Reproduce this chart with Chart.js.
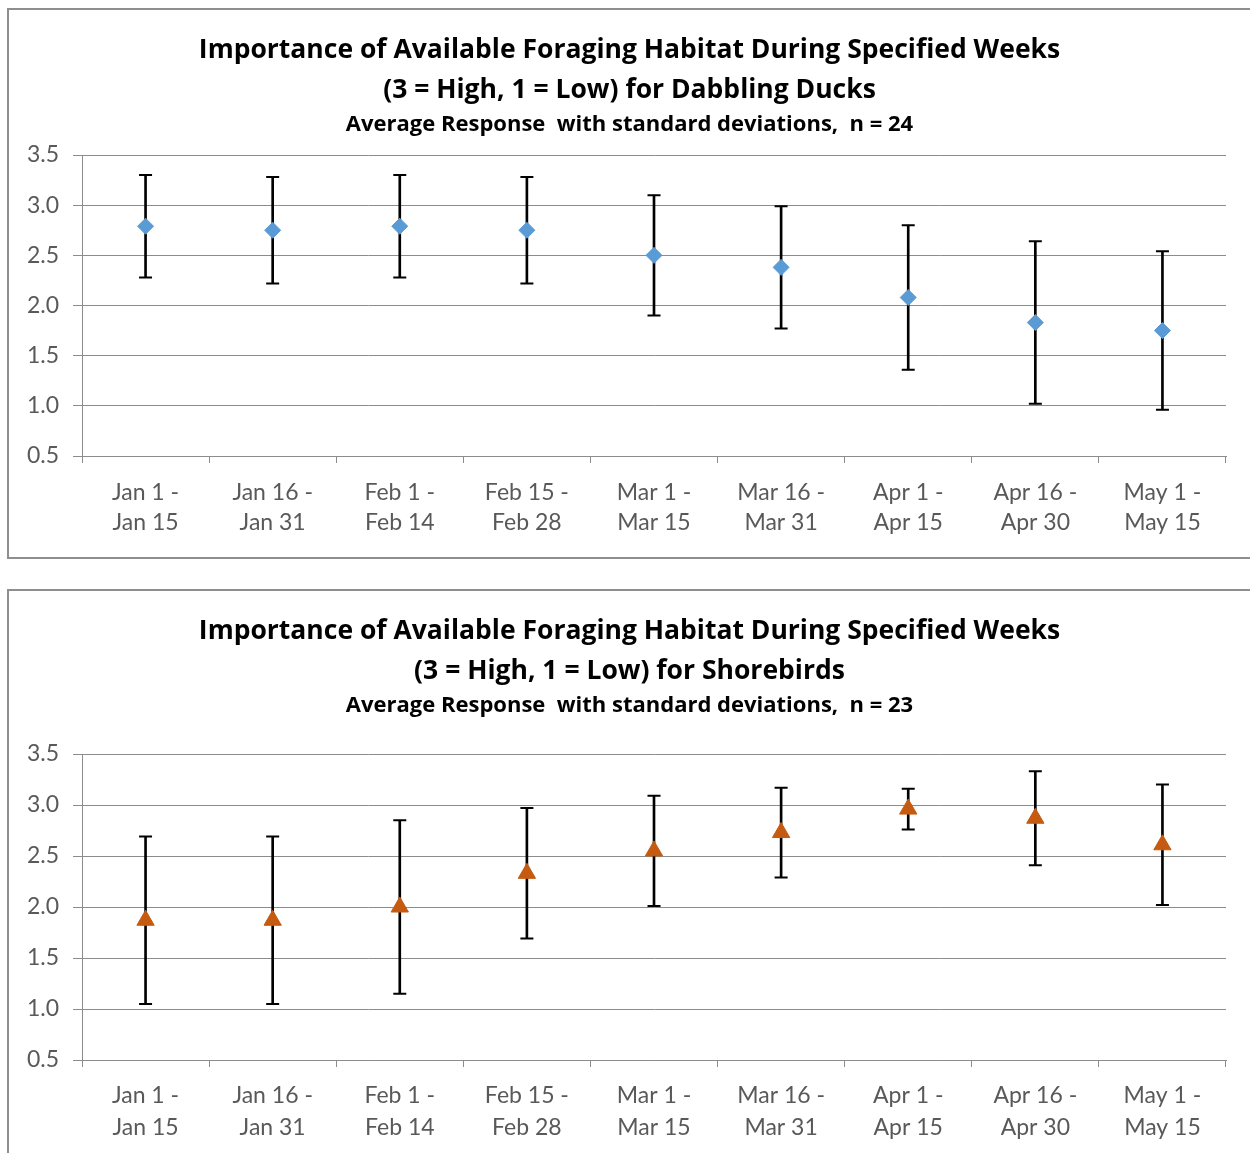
<!DOCTYPE html>
<html>
<head>
<meta charset="utf-8">
<script src="https://cdn.jsdelivr.net/npm/chart.js@4.4.1/dist/chart.umd.min.js"></script>
<style>
  html, body { margin: 0; padding: 0; background: #fff; width: 1250px; height: 1153px; overflow: hidden; }
  .frame { position: absolute; left: 7px; width: 1250px; box-sizing: border-box; border: 2px solid #8e8e8e; background: #fff; }
  #f1 { top: 8px; height: 551px; }
  #f2 { top: 589px; height: 600px; }
  canvas { position: absolute; left: 9px; }
  #c1 { top: 10px; }
  #c2 { top: 591px; }
</style>
</head>
<body>
<div class="frame" id="f1"></div>
<div class="frame" id="f2"></div>
<canvas id="c1" width="1241" height="547"></canvas>
<canvas id="c2" width="1241" height="562"></canvas>
<script>
// Half-month survey periods (two-line axis labels)
const periods = [
  ["Jan 1 -", "Jan 15"], ["Jan 16 -", "Jan 31"], ["Feb 1 -", "Feb 14"],
  ["Feb 15 -", "Feb 28"], ["Mar 1 -", "Mar 15"], ["Mar 16 -", "Mar 31"],
  ["Apr 1 -", "Apr 15"], ["Apr 16 -", "Apr 30"], ["May 1 -", "May 15"]
];

// Importance scale shown on the value axis
const scaleMin = 0.5;
const scaleMax = 3.5;
const scaleStep = 0.5;

// Dabbling ducks: average response and standard deviation (n = 24)
const duckMean = [2.79, 2.75, 2.79, 2.75, 2.50, 2.38, 2.08, 1.83, 1.75];
const duckSD   = [0.51, 0.53, 0.51, 0.53, 0.60, 0.61, 0.72, 0.81, 0.79];

// Shorebirds: average response and standard deviation (n = 23)
const birdMean = [1.87, 1.87, 2.00, 2.33, 2.55, 2.73, 2.96, 2.87, 2.61];
const birdSD   = [0.82, 0.82, 0.85, 0.64, 0.54, 0.44, 0.20, 0.46, 0.59];

const titleLines = ["Importance of Available Foraging Habitat During Specified Weeks"];

const TITLE_FONT = "'Open Sans', Lato, sans-serif";
const FONT = "Lato, 'Open Sans', sans-serif";
const GRID = "#8c8c8c";
const TICK_TEXT = "#595959";

function habitatChart(canvas, cfg) {
  const lo = cfg.mean.map((m, i) => +(m - cfg.sd[i]).toFixed(3));
  const hi = cfg.mean.map((m, i) => +(m + cfg.sd[i]).toFixed(3));
  return new Chart(canvas, {
    type: "bar",
    data: {
      labels: periods,
      datasets: [
        {
          type: "line", label: "Average", data: cfg.mean, showLine: false,
          pointStyle: cfg.marker, pointRadius: cfg.markerRadius,
          pointBackgroundColor: cfg.color, pointBorderColor: cfg.color, pointBorderWidth: 1,
          order: 0
        },
        {
          type: "line", label: "Mean + SD", data: hi, showLine: false,
          pointStyle: "line", pointRadius: 6.5, pointBorderColor: "#000", pointBorderWidth: 2,
          order: 1
        },
        {
          type: "line", label: "Mean - SD", data: lo, showLine: false,
          pointStyle: "line", pointRadius: 6.5, pointBorderColor: "#000", pointBorderWidth: 2,
          order: 1
        },
        {
          type: "bar", label: "Standard deviation", data: lo.map((l, i) => [l, hi[i]]),
          backgroundColor: "#000", borderWidth: 0, barThickness: 2,
          order: 2
        }
      ]
    },
    options: {
      responsive: false,
      animation: false,
      events: [],
      devicePixelRatio: 1,
      layout: { padding: 0 },
      plugins: {
        legend: { display: false },
        tooltip: { enabled: false },
        title: {
          display: true,
          text: [titleLines[0], cfg.group],
          color: "#000",
          font: { family: TITLE_FONT, size: 26.5, weight: "bold", lineHeight: 40 / 26.5 },
          padding: { top: 20, bottom: 2 }
        },
        subtitle: {
          display: true,
          text: cfg.subtitle,
          color: "#000",
          font: { family: TITLE_FONT, size: 22, weight: "bold", lineHeight: 1.2 },
          padding: { top: 0, bottom: cfg.subGap }
        }
      },
      scales: {
        x: {
          offset: true,
          grid: { offset: true, drawOnChartArea: false, drawTicks: true, tickLength: 7, color: GRID, lineWidth: 1 },
          border: { color: GRID, width: 1 },
          ticks: {
            color: TICK_TEXT, autoSkip: false, maxRotation: 0, padding: cfg.xPad,
            font: { family: FONT, size: 23, lineHeight: cfg.xLine }
          },
          afterFit: s => { s.height = cfg.xHeight; }
        },
        y: {
          min: scaleMin, max: scaleMax,
          grid: { color: GRID, lineWidth: 1, tickLength: 9 },
          border: { color: GRID, width: 1 },
          ticks: {
            stepSize: scaleStep, color: TICK_TEXT, padding: 14,
            font: { family: FONT, size: 23 },
            callback: v => v.toFixed(1)
          },
          afterFit: s => { s.width = 73; }
        },
        // blank right-hand margin so the titles stay centred on the frame
        yMargin: {
          type: "linear", position: "right", display: true,
          grid: { display: false }, border: { display: false }, ticks: { display: false },
          afterFit: s => { s.width = 24; }
        }
      }
    }
  });
}

habitatChart(document.getElementById("c1"), {
  group: "(3 = High, 1 = Low) for Dabbling Ducks",
  subtitle: "Average Response  with standard deviations,  n = 24",
  mean: duckMean, sd: duckSD,
  marker: "rectRot", markerRadius: 8, color: "#5b9bd5",
  subGap: 16.6, xPad: 15, xLine: 30 / 23, xHeight: 101
});

habitatChart(document.getElementById("c2"), {
  group: "(3 = High, 1 = Low) for Shorebirds",
  subtitle: "Average Response  with standard deviations,  n = 23",
  mean: birdMean, sd: birdSD,
  marker: "triangle", markerRadius: 10, color: "#c55a11",
  subGap: 34.6, xPad: 13, xLine: 32 / 23, xHeight: 93
});
</script>
</body>
</html>
